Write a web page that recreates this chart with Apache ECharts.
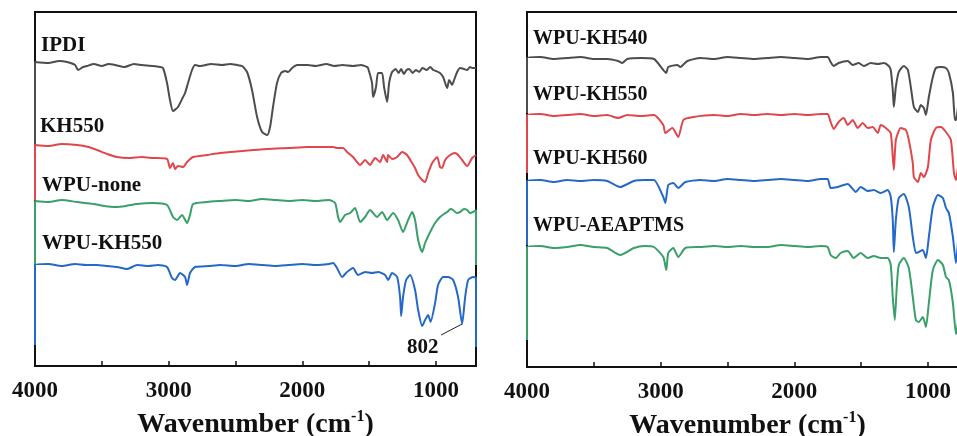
<!DOCTYPE html>
<html>
<head>
<meta charset="utf-8">
<script src="https://cdn.jsdelivr.net/npm/echarts@6/dist/echarts.min.js"></script>
<style>
  html, body { margin: 0; padding: 0; background: #fff; }
  #chart { width: 957px; height: 436px; }
</style>
</head>
<body>
<div id="chart"></div>
<script>
// FTIR spectra, wavenumber (cm-1) vs. offset transmittance (a.u.)
const labelTicks = [4000, 3000, 2000, 1000];
const minorTicks = [4000, 3500, 3000, 2500, 2000, 1500, 1000];

// Left panel: raw materials and WPU films
const ipdi = [
  [4000, 221], [4000, 304], [3900, 303], [3820, 305], [3760, 304], [3700, 301], [3678, 296],
  [3640, 299], [3611, 300], [3560, 302], [3500, 300], [3450, 302], [3400, 301], [3330, 299],
  [3260, 302], [3200, 301], [3117, 300], [3064, 299], [3042, 298], [3012, 283], [2990, 266],
  [2967, 255], [2930, 259], [2892, 269], [2877, 273], [2855, 283], [2825, 296], [2802, 301],
  [2765, 300], [2680, 302], [2600, 301], [2540, 302], [2488, 301], [2450, 300], [2413, 294],
  [2376, 276], [2338, 249], [2301, 234], [2263, 231], [2241, 239], [2219, 259], [2189, 283],
  [2159, 293], [2129, 295], [2106, 294], [2076, 298], [2039, 301], [1960, 301], [1900, 300],
  [1820, 302], [1760, 300], [1700, 301], [1620, 300], [1560, 301], [1515, 299], [1508, 298],
  [1478, 283], [1470, 269], [1448, 279], [1433, 293], [1403, 293], [1388, 279], [1365, 264],
  [1350, 283], [1328, 294], [1300, 297], [1280, 293], [1260, 297], [1240, 292], [1220, 296],
  [1200, 297], [1175, 293], [1150, 296], [1125, 294], [1100, 298], [1070, 296], [1043, 299],
  [1020, 296], [1000, 295], [970, 293], [946, 289], [916, 278], [901, 286], [879, 281],
  [864, 286], [841, 294], [819, 298], [790, 297], [766, 296], [745, 299], [729, 298], [700, 298]
];
const kh550 = [
  [4000, 166], [4000, 221], [3900, 220], [3800, 222], [3686, 221], [3600, 219], [3536, 216],
  [3460, 212], [3386, 209], [3300, 208], [3200, 209], [3117, 208], [3012, 207], [2990, 198],
  [2967, 203], [2952, 197], [2930, 200], [2892, 199], [2862, 204], [2817, 209], [2713, 211],
  [2615, 213], [2450, 215], [2263, 217], [2100, 218], [1960, 219], [1867, 219], [1769, 219],
  [1740, 218], [1695, 218], [1665, 214], [1620, 209], [1567, 201], [1530, 206], [1493, 201],
  [1455, 208], [1418, 204], [1395, 211], [1365, 204], [1358, 211], [1328, 207], [1290, 209],
  [1253, 214], [1216, 211], [1178, 203], [1156, 198], [1133, 191], [1103, 186], [1081, 184],
  [1058, 193], [1028, 203], [991, 209], [969, 199], [954, 198], [931, 206], [894, 211],
  [856, 213], [834, 211], [804, 206], [766, 200], [729, 208], [700, 211]
];
const wpuNone = [
  [4000, 101], [4000, 165], [3900, 164], [3800, 166], [3686, 164], [3560, 162], [3480, 160],
  [3400, 159], [3320, 160], [3240, 162], [3117, 163], [3012, 161], [2967, 149], [2937, 146],
  [2900, 151], [2862, 143], [2840, 151], [2817, 162], [2713, 164], [2615, 165], [2500, 166],
  [2400, 165], [2300, 167], [2200, 166], [2100, 165], [2000, 166], [1900, 165], [1800, 166],
  [1754, 163], [1732, 149], [1717, 144], [1680, 151], [1642, 153], [1605, 158], [1567, 144],
  [1530, 149], [1493, 156], [1440, 149], [1403, 154], [1365, 146], [1320, 153], [1283, 146],
  [1246, 134], [1208, 146], [1178, 154], [1156, 146], [1133, 126], [1103, 114], [1081, 123],
  [1043, 134], [1006, 143], [969, 149], [940, 152], [916, 154], [890, 157], [871, 156],
  [845, 153], [819, 154], [790, 157], [766, 156], [745, 153], [722, 154], [700, 156], [700, 101]
];
const wpuKh550L = [
  [4000, 21], [4000, 101], [3900, 102], [3800, 100], [3700, 102], [3620, 101], [3536, 101],
  [3460, 100], [3386, 99], [3311, 97], [3236, 101], [3150, 100], [3080, 101], [3012, 99],
  [2975, 88], [2952, 86], [2915, 93], [2877, 89], [2862, 81], [2840, 93], [2802, 99],
  [2700, 100], [2615, 101], [2500, 100], [2400, 102], [2300, 101], [2200, 100], [2100, 101],
  [2000, 102], [1900, 101], [1800, 102], [1769, 103], [1740, 98], [1702, 89], [1665, 94],
  [1620, 98], [1583, 91], [1530, 94], [1478, 93], [1433, 94], [1380, 91], [1358, 86],
  [1328, 93], [1290, 89], [1268, 69], [1260, 50], [1246, 69], [1223, 86], [1193, 91],
  [1156, 76], [1133, 56], [1103, 40], [1081, 46], [1058, 51], [1040, 44], [1006, 63],
  [984, 81], [946, 89], [909, 89], [871, 86], [834, 69], [804, 42], [781, 69], [759, 86],
  [722, 89], [700, 88], [700, 19]
];

// Right panel: WPU films with different silane coupling agents
const wpuKh540 = [
  [4000, 254], [4000, 309], [3900, 310], [3800, 308], [3700, 309], [3600, 310], [3500, 308],
  [3400, 308], [3318, 306], [3288, 304], [3250, 308], [3150, 309], [3050, 308], [2980, 297],
  [2958, 294], [2943, 300], [2875, 302], [2853, 300], [2800, 306], [2703, 309], [2600, 308],
  [2500, 310], [2400, 309], [2300, 308], [2200, 309], [2100, 310], [2000, 309], [1900, 308],
  [1800, 310], [1750, 310], [1728, 305], [1705, 301], [1668, 304], [1600, 306], [1563, 302],
  [1518, 304], [1480, 301], [1428, 304], [1375, 303], [1330, 304], [1293, 301], [1278, 297],
  [1263, 277], [1255, 260], [1240, 280], [1218, 295], [1180, 301], [1150, 297], [1128, 280],
  [1105, 260], [1075, 255], [1053, 262], [1030, 259], [1015, 252], [993, 270], [963, 290],
  [940, 299], [903, 300], [865, 299], [843, 294], [813, 274], [798, 247], [790, 247],
  [775, 260], [760, 285], [740, 298], [700, 300]
];
const wpuKh550R = [
  [4000, 194], [4000, 252], [3900, 253], [3800, 251], [3700, 252], [3600, 253], [3500, 251],
  [3400, 252], [3318, 249], [3250, 252], [3150, 251], [3050, 252], [2980, 242], [2965, 234],
  [2913, 239], [2868, 230], [2830, 247], [2755, 250], [2600, 252], [2500, 251], [2400, 253],
  [2300, 252], [2200, 253], [2100, 252], [2000, 253], [1900, 252], [1800, 253], [1750, 253],
  [1728, 245], [1705, 238], [1668, 245], [1630, 249], [1600, 242], [1563, 247], [1525, 239],
  [1488, 244], [1450, 239], [1413, 240], [1375, 234], [1353, 242], [1315, 239], [1278, 234],
  [1255, 197], [1240, 227], [1203, 239], [1165, 237], [1143, 227], [1113, 204], [1105, 190],
  [1075, 185], [1053, 194], [1030, 190], [1000, 200], [978, 227], [940, 239], [903, 240],
  [865, 235], [828, 227], [805, 194], [790, 187], [775, 200], [760, 225], [740, 238], [700, 240]
];
const wpuKh560 = [
  [4000, 122], [4000, 186], [3900, 187], [3800, 185], [3700, 187], [3600, 186], [3500, 187],
  [3400, 186], [3303, 180], [3200, 186], [3120, 187], [3050, 187], [2980, 170], [2965, 164],
  [2943, 182], [2905, 184], [2868, 179], [2815, 185], [2703, 187], [2600, 186], [2500, 188],
  [2400, 187], [2300, 186], [2200, 187], [2100, 188], [2000, 187], [1900, 186], [1800, 188],
  [1750, 188], [1728, 179], [1675, 180], [1600, 183], [1540, 175], [1503, 180], [1450, 176],
  [1405, 177], [1353, 174], [1300, 177], [1278, 170], [1263, 147], [1255, 115], [1240, 147],
  [1218, 169], [1180, 173], [1143, 160], [1113, 130], [1090, 114], [1068, 115], [1038, 117],
  [1015, 109], [993, 130], [963, 160], [925, 172], [888, 169], [865, 159], [843, 154],
  [813, 130], [790, 104], [775, 125], [760, 150], [740, 165], [700, 168]
];
const wpuAeaptms = [
  [4000, 27], [4000, 120], [3900, 121], [3800, 119], [3700, 120], [3600, 122], [3500, 120],
  [3400, 119], [3303, 112], [3200, 119], [3120, 121], [3050, 120], [2980, 110], [2958, 97],
  [2943, 114], [2905, 119], [2868, 110], [2815, 119], [2703, 120], [2600, 121], [2500, 120],
  [2400, 121], [2300, 120], [2200, 120], [2100, 122], [2000, 121], [1900, 120], [1800, 121],
  [1750, 120], [1728, 112], [1690, 109], [1653, 114], [1600, 116], [1555, 109], [1503, 114],
  [1450, 109], [1405, 111], [1353, 109], [1300, 109], [1278, 102], [1263, 70], [1248, 47],
  [1233, 80], [1218, 102], [1180, 109], [1143, 99], [1113, 70], [1090, 47], [1068, 45],
  [1038, 50], [1015, 40], [993, 64], [963, 97], [925, 107], [888, 102], [865, 90], [843, 87],
  [813, 64], [790, 33], [775, 45], [760, 80], [740, 100], [700, 105]
];

// Peak annotation (Si-O-Si band of WPU-KH550)
const peakLabel = '802';
const peakLeader = [[961, 31], [804, 42]];

const GRAY = '#4d4d4d', RED = '#e0474c', GREEN = '#3a9f68', BLUE = '#2468c8';
const SERIF = '"Liberation Serif", "Times New Roman", serif';

function xAxisFor(gridIndex) {
  return {
    type: 'value', gridIndex, min: 700, max: 4000, inverse: true,
    axisLine: { show: true, lineStyle: { color: '#111', width: 2 } },
    axisTick: { show: true, inside: true, length: 5, customValues: minorTicks,
                lineStyle: { color: '#111', width: 1.5 } },
    axisLabel: { customValues: labelTicks, formatter: v => String(v),
                 fontFamily: SERIF, fontWeight: 'bold',
                 fontSize: 23, color: '#111', margin: 14 },
    splitLine: { show: false },
    name: '{t|Wavenumber (cm}{s|-1}{t|)}',
    nameLocation: 'middle', nameGap: 43, nameMoveOverlap: false,
    nameTextStyle: {
      rich: {
        t: { fontFamily: SERIF, fontWeight: 'bold', fontSize: 28, color: '#111', lineHeight: 32 },
        s: { fontFamily: SERIF, fontWeight: 'bold', fontSize: 16, color: '#111',
             verticalAlign: 'top', lineHeight: 32 }
      }
    }
  };
}
function yAxisFor(gridIndex, max) {
  return {
    type: 'value', gridIndex, min: 0, max,
    axisLine: { show: true, onZero: false, lineStyle: { color: '#111', width: 2 } },
    axisTick: { show: false }, axisLabel: { show: false }, splitLine: { show: false }
  };
}
function line(name, data, color, idx) {
  return {
    name, type: 'line', data, xAxisIndex: idx, yAxisIndex: idx,
    showSymbol: false, symbol: 'none', smooth: 0.2, z: 3,
    lineStyle: { color, width: 2 }, animation: false
  };
}
function label(text, x, y, size) {
  return { type: 'text', x, y, z: 10,
    style: { text, font: 'bold ' + size + 'px ' + SERIF, fill: '#111', verticalAlign: 'middle' } };
}

const chart = echarts.init(document.getElementById('chart'), null, { renderer: 'canvas' });
const kh550Series = line('WPU-KH550', wpuKh550L, BLUE, 0);
kh550Series.markLine = {
  silent: true, symbol: 'none', animation: false,
  lineStyle: { color: '#222', width: 1, type: 'solid' }, label: { show: false },
  data: [[{ coord: peakLeader[0] }, { coord: peakLeader[1] }]]
};

chart.setOption({
  backgroundColor: '#fff',
  animation: false,
  grid: [
    { left: 35, top: 12, width: 441, height: 354, show: true, borderColor: '#111', borderWidth: 2,
      containLabel: false, outerBoundsMode: 'none' },
    { left: 527, top: 12, width: 441, height: 355, show: true, borderColor: '#111', borderWidth: 2,
      containLabel: false, outerBoundsMode: 'none' }
  ],
  xAxis: [xAxisFor(0), xAxisFor(1)],
  yAxis: [yAxisFor(0, 354), yAxisFor(1, 355)],
  series: [
    line('IPDI', ipdi, GRAY, 0),
    line('KH550', kh550, RED, 0),
    line('WPU-none', wpuNone, GREEN, 0),
    kh550Series,
    line('WPU-KH540', wpuKh540, GRAY, 1),
    line('WPU-KH550 ', wpuKh550R, RED, 1),
    line('WPU-KH560', wpuKh560, BLUE, 1),
    line('WPU-AEAPTMS', wpuAeaptms, GREEN, 1)
  ],
  graphic: [
    label('IPDI', 41, 46, 21),
    label('KH550', 40, 127, 21),
    label('WPU-none', 42, 186, 21),
    label('WPU-KH550', 42, 244, 21),
    label(peakLabel, 407, 348, 21),
    label('WPU-KH540', 533, 39, 20),
    label('WPU-KH550', 533, 95, 20),
    label('WPU-KH560', 533, 159, 20),
    label('WPU-AEAPTMS', 533, 226, 20)
  ]
});
</script>
</body>
</html>
